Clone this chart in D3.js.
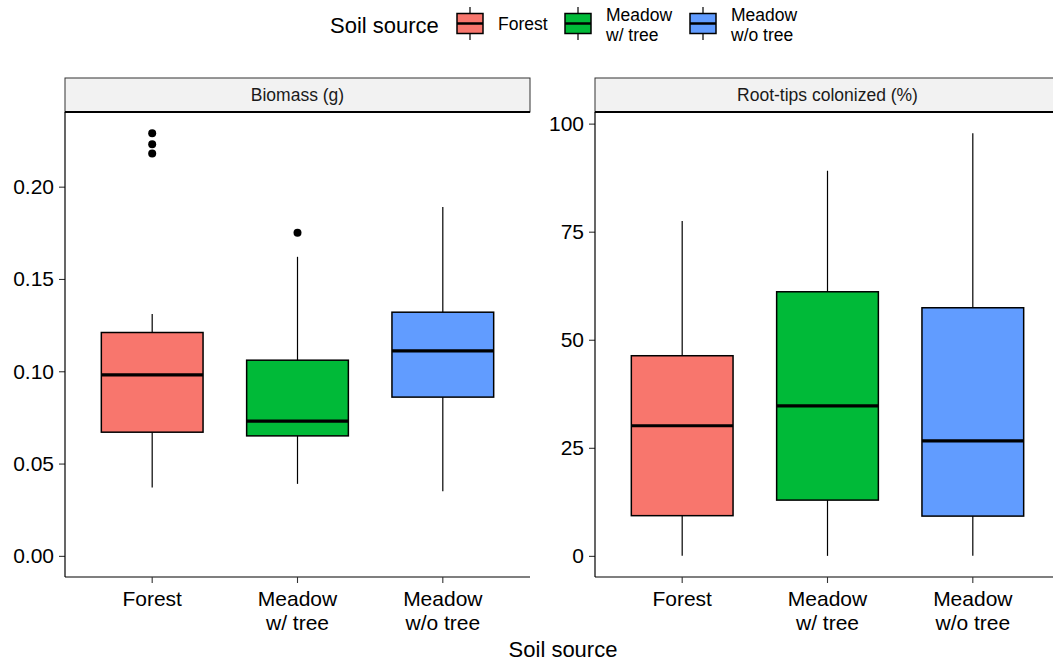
<!DOCTYPE html>
<html lang="en">
<head>
<meta charset="UTF-8">
<title>Soil source boxplots</title>
<style>
  body { margin: 0; background: #fff; }
  text { font-family: "Liberation Sans", Arial, sans-serif; fill: #000; }
</style>
</head>
<body>
<script src="https://d3js.org/d3.v7.min.js"></script>
<div id="chart"></div>
<script>
// categories + fills
const categories = ["Forest", "Meadow\nw/ tree", "Meadow\nw/o tree"]
const fills = ["#F8766D", "#00BA38", "#619CFF"]

// Biomass (g) box stats
const biomassLow = [0.037, 0.039, 0.035]
const biomassQ1 = [0.067, 0.065, 0.086]
const biomassMedian = [0.098, 0.073, 0.111]
const biomassQ3 = [0.121, 0.106, 0.132]
const biomassHigh = [0.131, 0.162, 0.189]
const biomassOutliers = [[0.218, 0.223, 0.229], [0.175], []]
const biomassTicks = [0, 0.05, 0.10, 0.15, 0.20]

// Root-tips colonized (%) box stats
const rootLow = [0, 0, 0]
const rootQ1 = [9.3, 12.9, 9.2]
const rootMedian = [30.1, 34.7, 26.6]
const rootQ3 = [46.3, 61.1, 57.4]
const rootHigh = [77.5, 89.1, 97.8]
const rootOutliers = [[], [], []]
const rootTicks = [0, 25, 50, 75, 100]

const W = 1053, H = 662
const PANEL = { TOP: 112, BOTTOM: 577, WIDTH: 465 }
const STRIP_H = 34

const svg = d3.select("#chart").append("svg")
    .attr("width", W).attr("height", H)

const makeStats = (low, q1, med, q3, high, out) =>
    categories.map((c, i) => ({ cat: c, i, low: low[i], q1: q1[i], med: med[i], q3: q3[i], high: high[i], out: out[i] }))

const panels = [
    { title: "Biomass (g)", left: 65, ticks: biomassTicks, fmt: d3.format(".2f"),
      stats: makeStats(biomassLow, biomassQ1, biomassMedian, biomassQ3, biomassHigh, biomassOutliers) },
    { title: "Root-tips colonized (%)", left: 595, ticks: rootTicks, fmt: d3.format("d"),
      stats: makeStats(rootLow, rootQ1, rootMedian, rootQ3, rootHigh, rootOutliers) }
]

panels.forEach(p => {
    const g = svg.append("g").attr("transform", `translate(${p.left},0)`)

    // ggplot style 5% expansion, with 0 in the range
    const vals = p.stats.flatMap(d => [d.low, d.high, ...d.out]).concat([0])
    const lo = d3.min(vals), hi = d3.max(vals)
    const pad = (hi - lo) * 0.05
    const y = d3.scaleLinear().domain([lo - pad, hi + pad]).range([PANEL.BOTTOM, PANEL.TOP])

    // discrete scale, 0.6 expansion each side
    const x = d3.scaleLinear().domain([0.4, 3.6]).range([0, PANEL.WIDTH])
    const bw = x(1.7) - x(1)

    // strip
    g.append("rect")
        .attr("x", 0).attr("y", PANEL.TOP - STRIP_H)
        .attr("width", PANEL.WIDTH).attr("height", STRIP_H)
        .attr("fill", "#F2F2F2").attr("stroke", "#333").attr("stroke-width", 1)
    g.append("line")
        .attr("x1", 0).attr("x2", PANEL.WIDTH)
        .attr("y1", PANEL.TOP).attr("y2", PANEL.TOP)
        .attr("stroke", "#000").attr("stroke-width", 2.2)
    g.append("text")
        .attr("x", PANEL.WIDTH / 2).attr("y", PANEL.TOP - STRIP_H / 2)
        .attr("dy", "0.35em").attr("text-anchor", "middle")
        .style("font-size", "17.5px").style("fill", "#1a1a1a")
        .text(p.title)

    // boxes
    const box = g.selectAll("g.box").data(p.stats).enter().append("g").attr("class", "box")
    box.append("line")
        .attr("x1", d => x(d.i + 1)).attr("x2", d => x(d.i + 1))
        .attr("y1", d => y(d.high)).attr("y2", d => y(d.q3))
        .attr("stroke", "#000").attr("stroke-width", 1.2)
    box.append("line")
        .attr("x1", d => x(d.i + 1)).attr("x2", d => x(d.i + 1))
        .attr("y1", d => y(d.q1)).attr("y2", d => y(d.low))
        .attr("stroke", "#000").attr("stroke-width", 1.2)
    box.append("rect")
        .attr("x", d => x(d.i + 1) - bw / 2).attr("width", bw)
        .attr("y", d => y(d.q3)).attr("height", d => y(d.q1) - y(d.q3))
        .attr("fill", (d, i) => fills[i]).attr("stroke", "#000").attr("stroke-width", 1.5)
    box.append("line")
        .attr("x1", d => x(d.i + 1) - bw / 2).attr("x2", d => x(d.i + 1) + bw / 2)
        .attr("y1", d => y(d.med)).attr("y2", d => y(d.med))
        .attr("stroke", "#000").attr("stroke-width", 3.2)
    box.selectAll("circle").data(d => d.out.map(v => ({ i: d.i, v })))
        .enter().append("circle")
        .attr("cx", d => x(d.i + 1)).attr("cy", d => y(d.v))
        .attr("r", 4).attr("fill", "#000")

    // y axis
    const yAxis = g.append("g")
        .call(d3.axisLeft(y).tickValues(p.ticks).tickFormat(p.fmt).tickSize(6).tickPadding(5))
    yAxis.select(".domain").remove()
    yAxis.selectAll(".tick line").attr("stroke", "#333").attr("stroke-width", 1.1)
    yAxis.selectAll("text").style("font-size", "21px").style("font-family", "Liberation Sans, Arial, sans-serif").attr("fill", "#1a1a1a")
    g.append("line").attr("x1", 0).attr("x2", 0).attr("y1", PANEL.TOP).attr("y2", PANEL.BOTTOM)
        .attr("stroke", "#000").attr("stroke-width", 1.2)

    // x axis
    const xg = g.append("g").attr("transform", `translate(0,${PANEL.BOTTOM})`)
    xg.append("line").attr("x1", 0).attr("x2", PANEL.WIDTH).attr("y1", 0).attr("y2", 0)
        .attr("stroke", "#000").attr("stroke-width", 1.2)
    const xt = xg.selectAll("g.xt").data(categories).enter().append("g")
        .attr("transform", (d, i) => `translate(${x(i + 1)},0)`)
    xt.append("line").attr("y1", 0).attr("y2", 6).attr("stroke", "#333").attr("stroke-width", 1.1)
    xt.append("text").attr("text-anchor", "middle").style("font-size", "21px").attr("fill", "#1a1a1a")
        .selectAll("tspan").data(d => d.split("\n")).enter().append("tspan")
        .attr("x", 0).attr("y", (d, j) => 29 + j * 23.5)
        .text(d => d)
})

// x axis title
svg.append("text").attr("x", 563).attr("y", 657).attr("text-anchor", "middle")
    .style("font-size", "22px").text("Soil source")

// legend
const legend = svg.append("g")
legend.append("text").attr("x", 330).attr("y", 33).style("font-size", "22px").text("Soil source")
const keyX = [457, 565, 690]
categories.forEach((c, i) => {
    const k = legend.append("g").attr("transform", `translate(${keyX[i]},0)`)
    k.append("line").attr("x1", 13).attr("x2", 13).attr("y1", 7).attr("y2", 40)
        .attr("stroke", "#000").attr("stroke-width", 1.2)
    k.append("rect").attr("x", 0).attr("y", 13.5).attr("width", 26).attr("height", 20)
        .attr("fill", fills[i]).attr("stroke", "#000").attr("stroke-width", 1.5)
    k.append("line").attr("x1", 0).attr("x2", 26).attr("y1", 23.5).attr("y2", 23.5)
        .attr("stroke", "#000").attr("stroke-width", 2.5)
    const lines = c.split("\n")
    const t = k.append("text").attr("x", 41).style("font-size", "17.5px")
    t.selectAll("tspan").data(lines).enter().append("tspan")
        .attr("x", 41)
        .attr("y", (d, j) => lines.length === 1 ? 30 : 21 + j * 19.5)
        .text(d => d)
})
</script>
</body>
</html>
